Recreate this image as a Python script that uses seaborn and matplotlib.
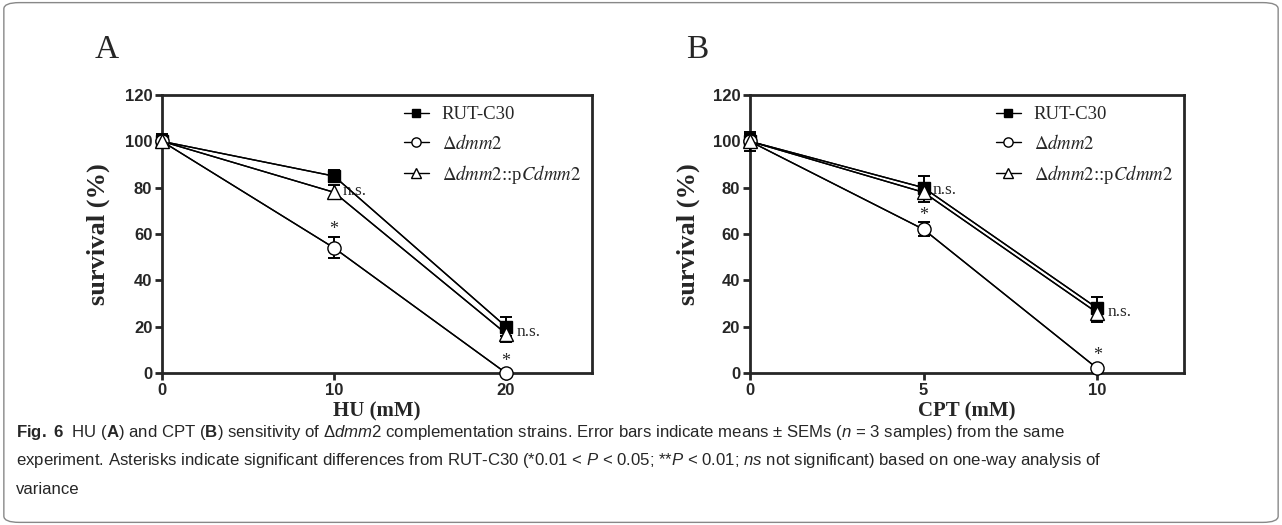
import matplotlib
matplotlib.use('Agg')

import pandas as pd
import matplotlib.pyplot as plt
import seaborn as sns
from matplotlib import font_manager
from matplotlib.patches import FancyBboxPatch
from matplotlib.font_manager import FontProperties

# datos
cepas = ['RUT-C30', 'dmm2', 'comp']
etiquetas = ['RUT-C30', r'$\Delta\mathit{dmm2}$', r'$\Delta\mathit{dmm2}$::p$\mathit{C}\mathit{dmm2}$']

hu_dosis = [0, 10, 20]
hu_rut = [100, 85, 20]
hu_rut_err = [2.5, 2.5, 4]
hu_dmm2 = [100, 54, 0]
hu_dmm2_err = [2, 4.5, 0.5]
hu_comp = [100, 78, 17]
hu_comp_err = [3, 3, 3.5]

cpt_dosis = [0, 5, 10]
cpt_rut = [100, 80, 28]
cpt_rut_err = [4, 5, 5]
cpt_dmm2 = [100, 62, 2]
cpt_dmm2_err = [3, 3, 0.5]
cpt_comp = [100, 78, 26]
cpt_comp_err = [3, 4, 4]

sns.set_style('ticks')

nombres = [f.name for f in font_manager.fontManager.ttflist]
cap_font = 'Liberation Sans Narrow' if 'Liberation Sans Narrow' in nombres else 'Liberation Sans'

plt.rcParams['mathtext.fontset'] = 'custom'
plt.rcParams['mathtext.rm'] = cap_font
plt.rcParams['mathtext.it'] = cap_font + ':italic'
plt.rcParams['mathtext.bf'] = cap_font + ':bold'

fig = plt.figure(figsize=(12.82, 5.25), dpi=100)

# borde redondeado
fig.patches.append(FancyBboxPatch((0.003, 0.005), 0.994, 0.99, boxstyle='round,pad=0,rounding_size=0.012',
                                  transform=fig.transFigure, fill=False, ec='#888888', lw=1.0))

marcadores = {'RUT-C30': 's', 'dmm2': 'o', 'comp': '^'}
relleno = {'RUT-C30': 'black', 'dmm2': 'white', 'comp': 'white'}
leg_prop = FontProperties(family='Liberation Serif', size=13.5, math_fontfamily='stix')


def panel(ax, dosis, series, errores, xlim, xticks, xlabel, ylab_x):
    filas = []
    for c, vals in zip(cepas, series):
        for d, v in zip(dosis, vals):
            filas.append({'dosis': d, 'survival': v, 'cepa': c})
    df = pd.DataFrame(filas)
    sns.lineplot(data=df, x='dosis', y='survival', hue='cepa', style='cepa', hue_order=cepas,
                 style_order=cepas, palette=['black'] * 3, markers=marcadores, dashes=False,
                 lw=1.0, markersize=0, ax=ax, legend=False, zorder=2)
    handles = []
    for c, vals, errs, lab in zip(cepas, series, errores, etiquetas):
        ax.errorbar(dosis, vals, yerr=errs, fmt='none', ecolor='black', elinewidth=1.4,
                    capsize=4, capthick=1.4, zorder=3, clip_on=False)
        h, = ax.plot(dosis, vals, ls='-', lw=1.0, color='black', marker=marcadores[c],
                     ms=9 if c == 'RUT-C30' else 9.5, mfc=relleno[c], mec='black', mew=1.0,
                     zorder=4, clip_on=False, label=lab)
        handles.append(h)
    ax.legend(handles=handles, loc='upper right', frameon=False, prop=leg_prop, markerscale=0.7,
              handlelength=1.3, handletextpad=0.7, borderaxespad=0.2, labelspacing=0.55,
              bbox_to_anchor=(1.0, 1.0))
    ax.set_xlim(*xlim)
    ax.set_ylim(0, 120)
    ax.set_xticks(xticks)
    ax.set_yticks([0, 20, 40, 60, 80, 100, 120])
    for s in ax.spines.values():
        s.set_linewidth(2)
        s.set_visible(True)
    ax.tick_params(axis='both', direction='out', length=5, width=2, labelsize=12, pad=2,
                   top=False, right=False)
    for t in ax.get_xticklabels() + ax.get_yticklabels():
        t.set_fontweight('bold')
        t.set_family('Liberation Sans')
    ax.set_xlabel(xlabel, fontsize=15, fontweight='bold', family='Liberation Serif', labelpad=3)
    ax.set_ylabel('survival (%)', fontsize=19, fontweight='bold', family='Liberation Serif')
    ax.yaxis.set_label_coords(ylab_x, 0.5)


axA = fig.add_axes([0.1264, 0.2895, 0.3354, 0.5295])
panel(axA, hu_dosis, [hu_rut, hu_dmm2, hu_comp], [hu_rut_err, hu_dmm2_err, hu_comp_err],
      (0, 25), [0, 10, 20], 'HU (mM)', -0.121)
axB = fig.add_axes([0.585, 0.2895, 0.3386, 0.5295])
panel(axB, cpt_dosis, [cpt_rut, cpt_dmm2, cpt_comp], [cpt_rut_err, cpt_dmm2_err, cpt_comp_err],
      (0, 12.5), [0, 5, 10], 'CPT (mM)', -0.115)

serif = dict(family='Liberation Serif', fontsize=12.5, va='center')
ast = dict(family='Liberation Serif', fontsize=13, va='center', ha='center')
# anotaciones panel A
axA.text(10.5, 78.5, 'n.s.', **serif)
axA.text(20.6, 17.5, 'n.s.', **serif)
axA.text(10, 62, '*', **ast)
axA.text(20, 5, '*', **ast)
# anotaciones panel B
axB.text(5.25, 79, 'n.s.', **serif)
axB.text(10.3, 26.5, 'n.s.', **serif)
axB.text(5, 68, '*', **ast)
axB.text(10, 7.5, '*', **ast)

fig.text(0.074, 0.905, 'A', family='Liberation Serif', fontsize=24, va='center')
fig.text(0.535, 0.905, 'B', family='Liberation Serif', fontsize=24, va='center')

# leyenda de la figura
lineas = [
    r'$\mathbf{Fig.\ 6}$  HU ($\mathbf{A}$) and CPT ($\mathbf{B}$) sensitivity of $\mathit{\Delta dmm2}$ complementation strains. '
    r'Error bars indicate means ± SEMs ($\mathit{n}$ = 3 samples) from the same',
    r'experiment. Asterisks indicate significant differences from RUT-C30 (*0.01 < $\mathit{P}$ < 0.05; **$\mathit{P}$ < 0.01; '
    r'$\mathit{ns}$ not significant) based on one-way analysis of',
    'variance',
]
for i, l in enumerate(lineas):
    fig.text(0.0125, 1 - (433 + 28 * i) / 525, l, family=cap_font, fontsize=12.1, va='center')

plt.savefig('out.png', dpi=100)
